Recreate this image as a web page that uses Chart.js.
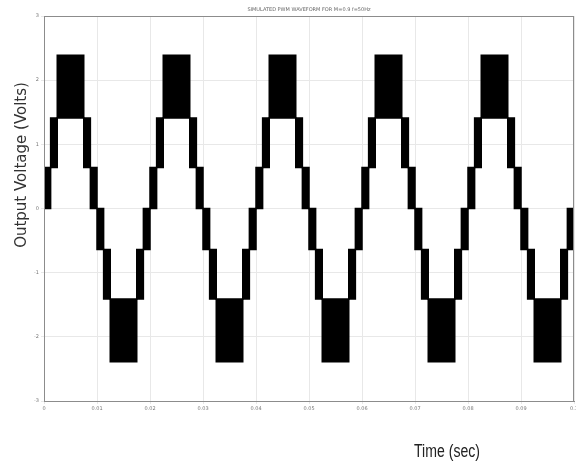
<!DOCTYPE html>
<html>
<head>
<meta charset="utf-8">
<script src="https://cdn.jsdelivr.net/npm/chart.js@4/dist/chart.umd.min.js"></script>
<style>
  html, body { margin: 0; padding: 0; background: #fff; }
</style>
</head>
<body>
<canvas id="chart" width="576" height="461"></canvas>
<script>
// switching instants in ms: start of each segment, last entry closes the trace
const timeMs = [
  0, 1.25, 2.5, 7.5, 8.75, 10, 11.25, 12.5, 17.5, 18.75,
  20, 21.25, 22.5, 27.5, 28.75, 30, 31.25, 32.5, 37.5, 38.75,
  40, 41.25, 42.5, 47.5, 48.75, 50, 51.25, 52.5, 57.5, 58.75,
  60, 61.25, 62.5, 67.5, 68.75, 70, 71.25, 72.5, 77.5, 78.75,
  80, 81.25, 82.5, 87.5, 88.75, 90, 91.25, 92.5, 97.5, 98.75,
  100
];
// upper and lower level the output switches between in each segment
const upperLevel = [
  0.64, 1.41, 2.39, 1.41, 0.64, 0, -0.64, -1.41, -0.64, 0,
  0.64, 1.41, 2.39, 1.41, 0.64, 0, -0.64, -1.41, -0.64, 0,
  0.64, 1.41, 2.39, 1.41, 0.64, 0, -0.64, -1.41, -0.64, 0,
  0.64, 1.41, 2.39, 1.41, 0.64, 0, -0.64, -1.41, -0.64, 0,
  0.64, 1.41, 2.39, 1.41, 0.64, 0, -0.64, -1.41, -0.64, 0,
  0
];
const lowerLevel = [
  0, 0.64, 1.41, 0.64, 0, -0.64, -1.41, -2.39, -1.41, -0.64,
  0, 0.64, 1.41, 0.64, 0, -0.64, -1.41, -2.39, -1.41, -0.64,
  0, 0.64, 1.41, 0.64, 0, -0.64, -1.41, -2.39, -1.41, -0.64,
  0, 0.64, 1.41, 0.64, 0, -0.64, -1.41, -2.39, -1.41, -0.64,
  0, 0.64, 1.41, 0.64, 0, -0.64, -1.41, -2.39, -1.41, -0.64,
  -0.64
];
const xTickLabels = ['0', '0.01', '0.02', '0.03', '0.04', '0.05', '0.06', '0.07', '0.08', '0.09', '0.1'];
const yTickLabels = ['-3', '-2', '-1', '0', '1', '2', '3'];
const plotTitle = 'SIMULATED PWM WAVEFORM FOR M=0.9 f=50Hz';
const xTitle = 'Time (sec)';
const yTitle = 'Output Voltage (Volts)';

const upperPts = timeMs.map((t, i) => ({x: t, y: upperLevel[i]}));
const lowerPts = timeMs.map((t, i) => ({x: t, y: lowerLevel[i]}));

const frame = {
  id: 'frame',
  afterDraw(chart) {
    const {ctx, chartArea: a} = chart;
    ctx.save();
    ctx.strokeStyle = '#8c8c8c';
    ctx.lineWidth = 1;
    ctx.strokeRect(a.left + 0.5, a.top + 0.5, a.right - a.left - 1, a.bottom - a.top);
    ctx.fillStyle = '#666';
    ctx.font = '5px "DejaVu Sans"';
    ctx.textAlign = 'center';
    ctx.fillText(plotTitle, (a.left + a.right) / 2, 11);

    // axis titles
    ctx.fillStyle = '#333';
    ctx.font = '15px "DejaVu Sans"';
    ctx.save();
    ctx.translate(26, 165);
    ctx.rotate(-Math.PI / 2);
    ctx.fillText(yTitle, 0, 0);
    ctx.restore();

    ctx.fillStyle = '#222';
    ctx.font = '16px "Liberation Sans", sans-serif';
    ctx.translate(447, 457);
    ctx.scale(0.88, 1.1);
    ctx.fillText(xTitle, 0, 0);
    ctx.restore();
  }
};

new Chart(document.getElementById('chart'), {
  type: 'line',
  data: {
    datasets: [{
      data: upperPts,
      stepped: true,
      borderColor: '#000',
      borderWidth: 1.5,
      pointRadius: 0,
      fill: false
    }, {
      data: lowerPts,
      stepped: true,
      borderColor: '#000',
      borderWidth: 1.5,
      pointRadius: 0,
      fill: '-1',
      backgroundColor: '#000'
    }]
  },
  options: {
    responsive: false,
    animation: false,
    layout: { padding: { top: 16, right: 2, left: 0, bottom: 0 } },
    plugins: { legend: { display: false }, tooltip: { enabled: false } },
    scales: {
      x: {
        type: 'linear',
        min: 0,
        max: 100,
        afterFit: s => { s.height = 60; s.paddingRight = 0; s.paddingLeft = 0; },
        ticks: {
          stepSize: 10,
          autoSkip: false,
          maxRotation: 0,
          padding: 2,
          color: '#777',
          font: { size: 5, family: 'DejaVu Sans' },
          callback: (v, i) => xTickLabels[i]
        },
        grid: { color: '#e8e8e8', tickLength: 3 },
        border: { color: '#8c8c8c' }
      },
      y: {
        min: -3,
        max: 3,
        afterFit: s => { s.width = 44; },
        ticks: {
          stepSize: 1,
          padding: 2,
          color: '#777',
          font: { size: 5, family: 'DejaVu Sans' },
          callback: (v, i) => yTickLabels[i]
        },
        grid: { color: '#e8e8e8', tickLength: 3 },
        border: { color: '#8c8c8c' }
      }
    }
  },
  plugins: [frame]
});
</script>
</body>
</html>
